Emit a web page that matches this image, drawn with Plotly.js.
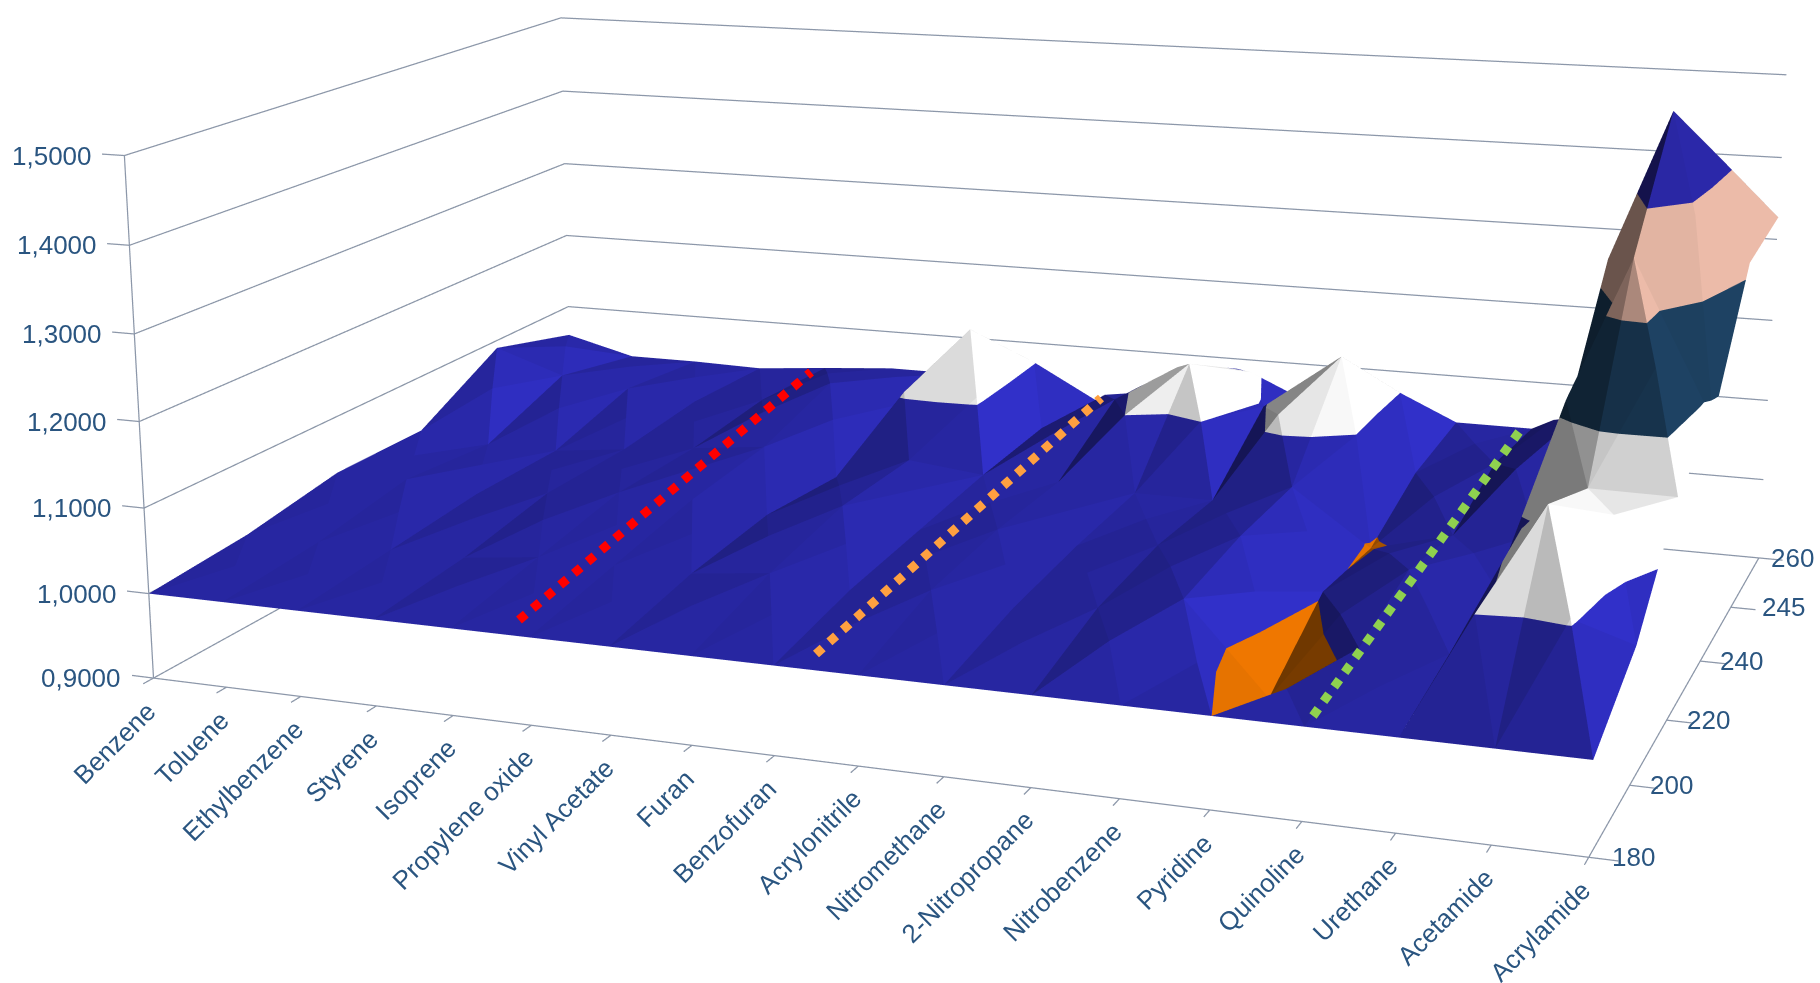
<!DOCTYPE html>
<html>
<head>
<meta charset="utf-8">
<script src="https://cdn.plot.ly/plotly-3.0.1.min.js"></script>
<style>
html, body { margin: 0; padding: 0; width: 1820px; height: 983px; overflow: hidden; background: #fff; }
#stage { position: absolute; left: -350px; top: -1106px; }
</style>
</head>
<body>
<div id="stage"></div>
<script>
// Relative response of each solvent (columns) at each temperature (rows).
const categories = ['Benzene','Toluene','Ethylbenzene','Styrene','Isoprene','Propylene oxide','Vinyl Acetate','Furan','Benzofuran','Acrylonitrile','Nitromethane','2-Nitropropane','Nitrobenzene','Pyridine','Quinoline','Urethane','Acetamide','Acrylamide'];
const temperatures = ['180','200','220','240','245','260'];
const zTicks = [0.9,1.0,1.1,1.2,1.3,1.4,1.5];
const zTickLabels = ['0,9000','1,0000','1,1000','1,2000','1,3000','1,4000','1,5000'];
const row180 = [1.00,1.00,1.00,1.00,1.00,1.00,1.00,1.00,1.00,1.00,1.00,1.00,1.00,1.00,1.00,1.00,1.00,1.00];
const row200 = [1.01,1.01,1.01,1.01,1.02,1.02,1.02,1.03,1.02,1.03,1.02,1.03,1.05,0.95,1.016,1.02,1.19,1.05];
const row220 = [1.03,1.03,1.02,1.03,1.04,1.04,1.03,1.05,1.03,1.04,1.03,1.04,1.06,1.005,1.04,1.03,1.15,1.149];
const row240 = [1.03,1.02,1.02,1.03,1.04,1.05,1.02,1.05,1.04,1.04,1.035,1.035,1.06,0.995,1.02,1.03,1.358,1.18];
const row245 = [1.09,1.06,1.05,1.04,1.05,1.08,1.06,1.165,1.045,1.09,1.143,1.097,1.167,1.03,1.05,1.115,1.487,1.315];
const row260 = [1.06,1.037,1.037,1.035,1.043,1.05,1.05,1.03,1.03,1.05,1.087,1.05,1.02,1.04,1.04,1.05,1.33,1.327];
const rows = [row180,row200,row220,row240,row245,row260];

// One flat colour per unit of the value axis, as in a banded surface.
const bands = [
  {lo:0.5, hi:1.0, rgb:[190,95,0]},
  {lo:1.0, hi:1.1, rgb:[39,38,160]},
  {lo:1.1, hi:1.2, rgb:[225,225,225]},
  {lo:1.2, hi:1.3, rgb:[25,55,82]},
  {lo:1.3, hi:1.4, rgb:[195,155,140]},
  {lo:1.4, hi:2.0, rgb:[36,33,140]}
];
const shadeLevels = 20, shadeLow = 0.45, shadeHigh = 1.35;
const xMax = categories.length - 1, yMax = temperatures.length - 1;
const zMin = 0.9, zMax = 1.5;
const boxSize = {x:1, y:0.6879, z:0.371};
const xPad = 0.3, yPad = 0.1, zPad = 0.01;
const light = [0.75,-0.1,0.65];
const peakPull = 0.35;

function shadeFactor(a,b,c){
  const s = p => [p[0]/xMax*boxSize.x, p[1]/yMax*boxSize.y, (p[2]-zMin)/(zMax-zMin)*boxSize.z];
  const A=s(a),B=s(b),C=s(c);
  const u=[B[0]-A[0],B[1]-A[1],B[2]-A[2]], v=[C[0]-A[0],C[1]-A[1],C[2]-A[2]];
  let n=[u[1]*v[2]-u[2]*v[1],u[2]*v[0]-u[0]*v[2],u[0]*v[1]-u[1]*v[0]];
  if(n[2]<0) n=n.map(d=>-d);
  const len=Math.hypot(n[0],n[1],n[2])||1;
  const d=(n[0]*light[0]+n[1]*light[1]+n[2]*light[2])/len;
  return 0.55+0.69*Math.max(0,d);
}

// Keep the part of a polygon between two heights.
function clipHeight(poly,level,keepAbove){
  const out=[];
  for(let i=0;i<poly.length;i++){
    const p=poly[i], q=poly[(i+1)%poly.length];
    const pin=keepAbove?p[2]>=level:p[2]<=level, qin=keepAbove?q[2]>=level:q[2]<=level;
    if(pin) out.push(p);
    if(pin!==qin){
      const t=(level-p[2])/(q[2]-p[2]);
      out.push([p[0]+t*(q[0]-p[0]),p[1]+t*(q[1]-p[1]),level]);
    }
  }
  return out;
}

// Facets are stored as rows of a two-column parametric surface; the rows
// between two facets collapse to zero area, so each facet keeps a flat colour.
const sx=[],sy=[],sz=[],sc=[];
function addRow(p,q,c){sx.push([p[0],q[0]]);sy.push([p[1],q[1]]);sz.push([p[2],q[2]]);sc.push([c,c]);}
function addFacet(a,b,c){
  const f=shadeFactor(a,b,c);
  const level=Math.max(0,Math.min(shadeLevels-1,Math.round((f-shadeLow)/(shadeHigh-shadeLow)*(shadeLevels-1))));
  bands.forEach((band,bi)=>{
    let poly=clipHeight([a,b,c],band.lo,true);
    if(poly.length) poly=clipHeight(poly,band.hi,false);
    if(poly.length<3) return;
    const idx=bi*shadeLevels+level;
    for(let t=1;t<poly.length-1;t++){
      addRow(poly[0],poly[0],idx);addRow(poly[t],poly[t+1],idx);addRow(poly[t+1],poly[t+1],idx);
    }
  });
}
// Each cell is split into four facets around a centre drawn from its corner heights.
for(let r=0;r<yMax;r++){
  for(let c=0;c<xMax;c++){
    const p00=[c,r,rows[r][c]],p10=[c+1,r,rows[r][c+1]],p11=[c+1,r+1,rows[r+1][c+1]],p01=[c,r+1,rows[r+1][c]];
    const mean=(p00[2]+p10[2]+p11[2]+p01[2])/4, top=Math.max(p00[2],p10[2],p11[2],p01[2]);
    const m=[c+0.5,r+0.5,mean+peakPull*(top-mean)];
    addFacet(p00,p10,m);addFacet(p10,p11,m);addFacet(p11,p01,m);addFacet(p01,p00,m);
  }
}
const paletteSize=bands.length*shadeLevels;
const colorscale=[];
bands.forEach((band,bi)=>{
  for(let l=0;l<shadeLevels;l++){
    const f=shadeLow+(shadeHigh-shadeLow)*l/(shadeLevels-1);
    colorscale.push([(bi*shadeLevels+l)/(paletteSize-1),'rgb('+band.rgb.map(v=>Math.min(255,Math.round(v*f))).join(',')+')']);
  }
});
const surface={type:'surface',x:sx,y:sy,z:sz,surfacecolor:sc,cauto:false,cmin:0,cmax:paletteSize-1,colorscale:colorscale,showscale:false,
  lighting:{ambient:1,diffuse:0,specular:0,roughness:1,fresnel:0},hoverinfo:'skip'};

// Wall gridlines and the three axis lines with their ticks.
const lx=[],ly=[],lz=[];
function seg(pts){pts.forEach(p=>{lx.push(p[0]);ly.push(p[1]);lz.push(p[2]);});lx.push(null);ly.push(null);lz.push(null);}
zTicks.forEach(z=>{seg([[0,0,z],[0,yMax,z],[xMax,yMax,z]]);seg([[0,0,z],[-xPad,0,z]]);});
seg([[0,0,zMin],[0,0,zMax]]);
seg([[0,0,zMin],[xMax,0,zMin],[xMax,yMax,zMin]]);
categories.forEach((_,i)=>seg([[i,0,zMin],[i,-yPad,zMin]]));
temperatures.forEach((_,i)=>seg([[xMax,i,zMin],[xMax+xPad,i,zMin]]));
const frame={type:'scatter3d',mode:'lines',x:lx,y:ly,z:lz,line:{color:'#8C97A9',width:2.5},hoverinfo:'skip',showlegend:false,connectgaps:false};

const labelColor='#2A5580';
const temperatureNudge=[3,0,0,0,11,-8];
const annotations=[];
categories.forEach((t,i)=>annotations.push({x:i,y:0,z:zMin,text:t,showarrow:false,textangle:-45,xanchor:'right',yanchor:'top',xshift:11,yshift:-15,font:{family:'Liberation Sans',size:26,color:labelColor}}));
zTicks.forEach((v,i)=>annotations.push({x:0,y:0,z:v,text:zTickLabels[i],showarrow:false,xanchor:'right',yanchor:'middle',xshift:-30,font:{family:'Liberation Sans',size:26,color:labelColor}}));
temperatures.forEach((t,i)=>annotations.push({x:xMax,y:i,z:zMin,text:t,showarrow:false,xanchor:'left',yanchor:'middle',xshift:18+temperatureNudge[i],font:{family:'Liberation Sans',size:26,color:labelColor}}));

const W=2170,H=3148,offX=350,offY=1106;
function dotted(x0,y0,x1,y1,color){
  return {type:'line',xref:'paper',yref:'paper',layer:'above',
    x0:(x0+offX)/W,y0:1-(y0+offY)/H,x1:(x1+offX)/W,y1:1-(y1+offY)/H,
    line:{color:color,width:9,dash:'9px,9px'}};
}
const layout={
  width:W,height:H,margin:{l:0,r:0,t:0,b:0},paper_bgcolor:'#fff',showlegend:false,
  shapes:[dotted(519,620,811,372,'#FF0000'),dotted(816,654,1101,398,'#FFA040'),dotted(1313,716,1519,432,'#8FD14F')],
  scene:{
    domain:{x:[0,1],y:[0,1]},bgcolor:'#fff',aspectmode:'manual',
    aspectratio:{x:boxSize.x*(xMax+2*xPad)/xMax,y:boxSize.y*(yMax+2*yPad)/yMax,z:boxSize.z*(zMax-zMin+2*zPad)/(zMax-zMin)},
    xaxis:{range:[-xPad,xMax+xPad],autorange:false,visible:false},
    yaxis:{range:[-yPad,yMax+yPad],autorange:false,visible:false},
    zaxis:{range:[zMin-zPad,zMax+zPad],autorange:false,visible:false},
    camera:{eye:{x:0.8725,y:-2.5204,z:0.6322},center:{x:-0.1503,y:-0.119,z:-0.0577},up:{x:-0.0868,y:0.2406,z:0.9668}},
    annotations:annotations
  }
};
Plotly.newPlot('stage',[surface,frame],layout,{displayModeBar:false});
</script>
</body>
</html>
